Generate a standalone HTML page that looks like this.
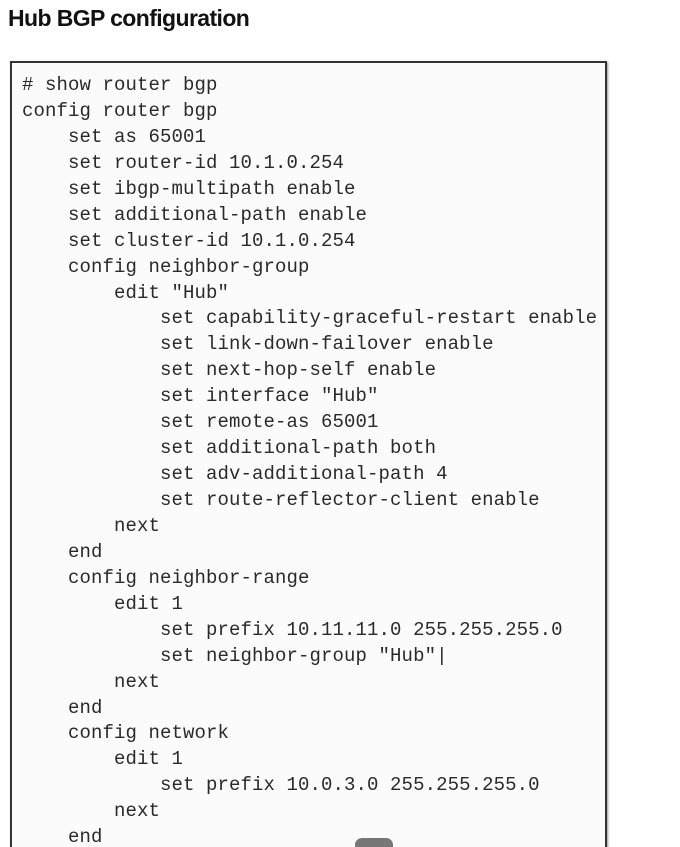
<!DOCTYPE html>
<html><head><meta charset="utf-8"><style>
html,body{margin:0;padding:0;background:#fff;width:680px;height:847px;overflow:hidden;position:relative}
.t{position:absolute;left:8px;top:5px;font:bold 23px "Liberation Sans",sans-serif;color:#111;letter-spacing:-0.6px}
.box{position:absolute;left:10px;top:61px;width:593px;height:800px;border:2px solid #333;background:#fbfbfb;box-shadow:1px 1px 2px #999}
pre{position:absolute;left:22px;top:73px;margin:0;font:19px/25.93px "Liberation Mono",monospace;color:#2a2a2a;letter-spacing:0.1px}
.blob{position:absolute;left:355px;top:838px;width:38px;height:20px;border-radius:7px;background:#777}
</style></head><body>
<div class="t">Hub BGP configuration</div>
<div class="box"></div>
<pre># show router bgp
config router bgp
    set as 65001
    set router-id 10.1.0.254
    set ibgp-multipath enable
    set additional-path enable
    set cluster-id 10.1.0.254
    config neighbor-group
        edit "Hub"
            set capability-graceful-restart enable
            set link-down-failover enable
            set next-hop-self enable
            set interface "Hub"
            set remote-as 65001
            set additional-path both
            set adv-additional-path 4
            set route-reflector-client enable
        next
    end
    config neighbor-range
        edit 1
            set prefix 10.11.11.0 255.255.255.0
            set neighbor-group "Hub"|
        next
    end
    config network
        edit 1
            set prefix 10.0.3.0 255.255.255.0
        next
    end</pre>
<div class="blob"></div>
</body></html>
